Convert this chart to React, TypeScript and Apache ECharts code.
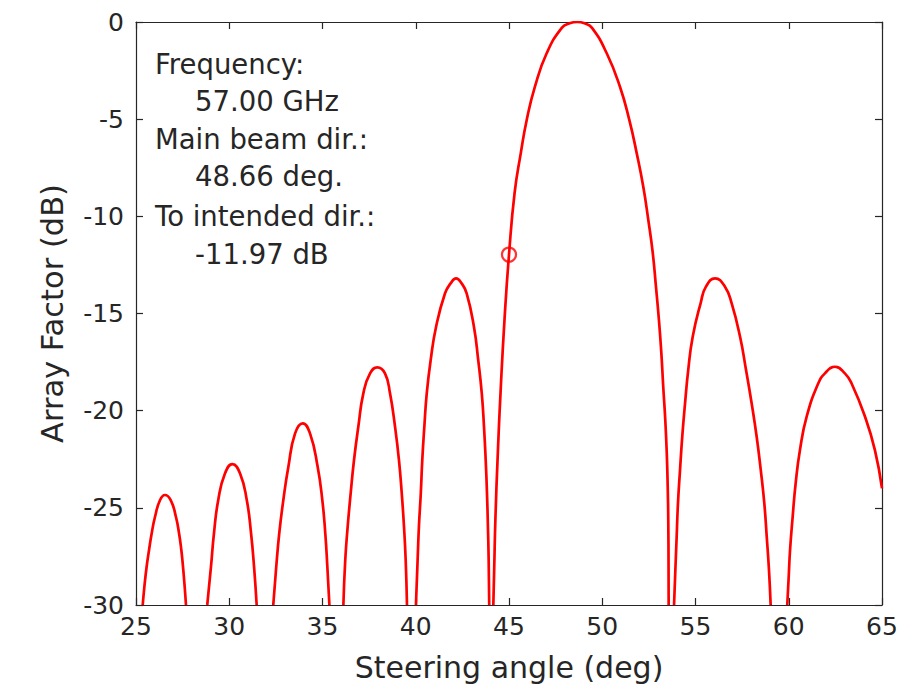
import React, { useEffect, useRef } from "react";
import * as echarts from "echarts";

// x: steering angle (deg), y: array factor (dB)
const lobe1: number[][] = [[25.36, -30], [25.45, -29.06], [25.57, -28.03], [25.7, -27.17], [25.84, -26.32], [26.02, -25.46], [26.29, -24.6], [26.55, -24.34], [26.86, -24.6], [27.14, -25.46], [27.31, -26.32], [27.43, -27.17], [27.52, -28.03], [27.61, -29.06], [27.68, -30]];
const lobe2: number[][] = [[28.82, -30], [29.02, -28.03], [29.18, -26.32], [29.41, -24.6], [29.77, -23.23], [30.17, -22.75], [30.58, -23.23], [30.94, -24.6], [31.17, -26.32], [31.33, -28.03], [31.47, -30]];
const lobe3: number[][] = [[32.36, -30], [32.52, -28.03], [32.68, -26.32], [32.9, -24.6], [33.17, -22.89], [33.53, -21.17], [33.94, -20.65], [34.33, -21.17], [34.74, -22.89], [34.99, -24.6], [35.15, -26.32], [35.26, -28.03], [35.37, -30]];
const lobe4: number[][] = [[36.12, -30], [36.22, -27.69], [36.35, -25.97], [36.51, -24.26], [36.69, -22.54], [36.92, -20.83], [37.19, -19.11], [37.55, -18.08], [37.94, -17.77], [38.35, -18.08], [38.62, -19.11], [38.89, -20.83], [39.1, -22.54], [39.25, -24.26], [39.37, -25.97], [39.46, -27.69], [39.53, -30]];
const lobe5: number[][] = [[40.01, -30], [40.1, -27.69], [40.17, -25.97], [40.27, -24.26], [40.35, -22.54], [40.46, -20.83], [40.59, -19.11], [40.8, -17.4], [41.09, -15.68], [41.57, -13.96], [41.87, -13.45], [42.16, -13.19], [42.46, -13.45], [42.73, -13.96], [43.12, -15.68], [43.35, -17.4], [43.54, -19.11], [43.66, -20.83], [43.75, -22.54], [43.82, -24.26], [43.87, -25.97], [43.91, -27.69], [43.94, -30]];
const mainLobe: number[][] = [[44.16, -30], [44.21, -28], [44.27, -25.6], [44.4, -22.2], [44.56, -18.8], [44.76, -15.3], [45.0, -11.97], [45.3, -8.8], [45.63, -6.76], [45.95, -5.04], [46.39, -3.33], [47.02, -1.61], [47.83, -0.3], [48.25, -0.07], [48.66, 0], [49.05, -0.07], [49.45, -0.3], [50.24, -1.61], [50.95, -3.33], [51.45, -5.04], [51.85, -6.76], [52.2, -8.48], [52.47, -10.19], [52.71, -11.9], [52.88, -13.62], [53.04, -15.34], [53.17, -17.05], [53.27, -18.77], [53.38, -20.48], [53.46, -22.2], [53.51, -23.92], [53.54, -25.63], [53.555, -28], [53.56, -30]];
const lobe7: number[][] = [[53.85, -30], [53.92, -28.2], [53.99, -26.49], [54.06, -24.77], [54.17, -23.06], [54.29, -21.34], [54.44, -19.62], [54.61, -17.91], [54.85, -16.2], [55.28, -14.45], [55.56, -13.62], [56.05, -13.19], [56.58, -13.62], [56.94, -14.48], [57.39, -16.2], [57.71, -17.91], [58.01, -19.62], [58.28, -21.34], [58.5, -23.06], [58.69, -24.77], [58.82, -26.49], [58.94, -28.2], [59.03, -30]];
const lobe8: number[][] = [[59.92, -30], [60.0, -28.5], [60.07, -27.17], [60.21, -25.46], [60.37, -23.74], [60.6, -22.03], [60.96, -20.31], [61.58, -18.6], [61.94, -18.08], [62.48, -17.74], [63.01, -18.08], [63.37, -18.6], [64.09, -20.31], [64.62, -22.03], [65.0, -24.0]];
const lobes = [lobe1, lobe2, lobe3, lobe4, lobe5, mainLobe, lobe7, lobe8];

const intendedPoint: number[][] = [[45, -11.97]];

const xRange = [25, 65];
const yRange = [-30, 0];
const tickStep = 5;

const annotationLines: string[] = ["Frequency:", "57.00 GHz", "Main beam dir.:", "48.66 deg.", "To intended dir.:", "-11.97 dB"];
const annotationIndent: boolean[] = [false, true, false, true, false, true];

const FONT = "'DejaVu Sans', Verdana, sans-serif";
const AX = "#262626";

export default function App() {
  const ref = useRef<HTMLDivElement>(null);
  useEffect(() => {
    if (!ref.current) return;
    const chart = echarts.init(ref.current, undefined, { renderer: "svg" });
    const axisCommon = {
      type: "value" as const,
      axisLine: { show: true, onZero: false, lineStyle: { color: AX, width: 1.2 } },
      axisTick: { show: true, inside: true, length: 7, lineStyle: { color: AX, width: 1.2 } },
      splitLine: { show: false },
    };
    const lineCenters = [64, 101, 139, 176, 216, 254];
    chart.setOption({
      animation: false,
      backgroundColor: "#ffffff",
      grid: { left: 136, right: 37, top: 22, bottom: 88 },
      xAxis: [
        {
          ...axisCommon,
          min: xRange[0], max: xRange[1], interval: tickStep, position: "bottom",
          axisLabel: { color: AX, fontSize: 25, fontFamily: FONT, margin: 9 },
          name: "Steering angle (deg)", nameLocation: "middle", nameGap: 47,
          nameTextStyle: { color: AX, fontSize: 30, fontFamily: FONT },
        },
        {
          ...axisCommon,
          min: xRange[0], max: xRange[1], interval: tickStep, position: "top",
          axisLabel: { show: false },
        },
      ],
      yAxis: [
        {
          ...axisCommon,
          min: yRange[0], max: yRange[1], interval: tickStep, position: "left",
          axisLabel: { color: AX, fontSize: 25, fontFamily: FONT, margin: 12 },
          name: "Array Factor (dB)", nameLocation: "middle", nameGap: 68,
          nameTextStyle: { color: AX, fontSize: 30.5, fontFamily: FONT },
        },
        {
          ...axisCommon,
          min: yRange[0], max: yRange[1], interval: tickStep, position: "right",
          axisLabel: { show: false },
        },
      ],
      series: [
        ...lobes.map((d) => ({
          type: "line",
          xAxisIndex: 0,
          yAxisIndex: 0,
          data: d,
          showSymbol: false,
          smooth: 0.5,
          lineStyle: { color: "#ff0000", width: 2.7 },
          clip: true,
        })),
        {
          type: "scatter",
          data: intendedPoint,
          symbol: "circle",
          symbolSize: 14,
          itemStyle: { color: "rgba(0,0,0,0)", borderColor: "#ff0000", borderWidth: 2.2 },
        },
      ],
      graphic: annotationLines.map((t, i) => ({
        type: "text",
        x: annotationIndent[i] ? 195 : 155,
        y: lineCenters[i],
        style: { text: t, fill: AX, fontSize: 27.5, fontFamily: FONT, align: "left", verticalAlign: "middle" },
      })),
    });
    return () => chart.dispose();
  }, []);
  return <div ref={ref} style={{ position: "absolute", left: 0, top: 0, width: 919, height: 693 }} />;
}
